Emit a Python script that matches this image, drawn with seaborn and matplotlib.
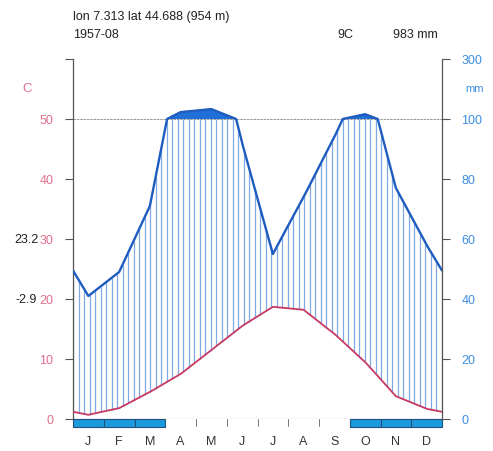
import numpy as np
import seaborn as sns
import matplotlib.pyplot as plt
from matplotlib.patches import Rectangle

# Datos del diagrama (Walter-Lieth)
meses = ["J", "F", "M", "A", "M", "J", "J", "A", "S", "O", "N", "D"]
precip_mm = [41, 49, 71, 123, 133, 92, 55, 74, 94, 116, 77, 58]
temp_c = [0.7, 1.8, 4.5, 7.5, 11.5, 15.5, 18.7, 18.2, 14.2, 9.5, 3.8, 1.7]
helada = [1, 1, 1, 0, 0, 0, 0, 0, 0, 1, 1, 1]
etiquetas_c = ["0", "10", "20", "30", "40", "50", ""]
etiquetas_mm = ["0", "20", "40", "60", "80", "100", "300"]

cabecera = "lon 7.313 lat 44.688 (954 m)"
periodo = "1957-08"
t_media = "9C"
p_total = "983 mm"
t_max = "23.2"
t_min = "-2.9"

ROJO = "#c83a62"
ROSA = "#e0708e"
AZUL_L = "#1f5cbf"
AZUL_T = "#3d8fe0"
AZUL_F = "#2070d8"
RAYA = "#80aae6"
HELADA = "#1c9bdc"
GRIS = "#555555"


def escala_p(mm):
    mm = np.asarray(mm, dtype=float)
    return np.where(mm <= 100, mm / 2, 50 + (mm - 100) / 20)


sns.set_theme(style="white")
plt.rcParams["font.family"] = ["Liberation Sans", "DejaVu Sans"]

W, H = 493, 452
fig = plt.figure(figsize=(W / 100, H / 100), dpi=100)
ax = fig.add_axes([73 / W, 32 / H, 369 / W, 360 / H])

# puntos en el centro de cada mes, extremos = media dic/ene
xp = np.concatenate([[0], np.arange(12) + 0.5, [12]])
pp = np.concatenate([[(precip_mm[0] + precip_mm[-1]) / 2], precip_mm, [(precip_mm[0] + precip_mm[-1]) / 2]])
tt = np.concatenate([[(temp_c[0] + temp_c[-1]) / 2], temp_c, [(temp_c[0] + temp_c[-1]) / 2]])

xs = np.linspace(0, 12, 1201)
p_y = escala_p(np.interp(xs, xp, pp))
t_y = np.interp(xs, xp, tt)

# rayado vertical entre temperatura y precipitacion
hx = np.linspace(0, 12, 68)
ax.vlines(hx, np.interp(hx, xp, tt), np.minimum(escala_p(np.interp(hx, xp, pp)), 50),
          color=RAYA, lw=0.9, zorder=1)

# zona > 100 mm
ax.fill_between(xs, 50, p_y, where=p_y > 50, color=AZUL_F, lw=0, zorder=2)

ax.axhline(50, color="#888888", lw=0.6, ls=(0, (3, 1)), zorder=1)
ax.axhline(0, color="#777777", lw=0.8, zorder=1)

sns.lineplot(x=xs, y=t_y, color=ROJO, lw=1.3, ax=ax, zorder=3)
sns.lineplot(x=xs, y=p_y, color=AZUL_L, lw=1.7, ax=ax, zorder=4)

# meses con helada probable
for i, h in enumerate(helada):
    if h:
        ax.add_patch(Rectangle((i, -1.4), 1, 1.4, fc=HELADA, ec="#1f4f7a", lw=0.8,
                               clip_on=False, zorder=5))
for i in range(1, 12):
    if not helada[i - 1] and not helada[i]:
        ax.plot([i, i], [0, -1.2], color="#777777", lw=0.7, clip_on=False)
for i, m in enumerate(meses):
    ax.text(i + 0.5, -3.6, m, ha="center", va="center", fontsize=9, color="#333333",
            clip_on=False)

ax.set_xlim(0, 12)
ax.set_ylim(0, 60)
ax.set_xticks([])
ax.set_yticks(range(0, 61, 10))
ax.set_yticklabels(etiquetas_c, color=ROSA, fontsize=9)
ax.tick_params(axis="y", left=True, length=6, width=0.8, color=GRIS, pad=8)
for s in ["top", "bottom", "right"]:
    ax.spines[s].set_visible(False)
ax.spines["left"].set_color(GRIS)
ax.spines["left"].set_linewidth(0.9)

ax2 = ax.twinx()
ax2.set_ylim(0, 60)
ax2.set_yticks(range(0, 61, 10))
ax2.set_yticklabels(etiquetas_mm, color=AZUL_T, fontsize=9)
ax2.tick_params(axis="y", right=True, length=6, width=0.8, color=GRIS, pad=8)
for s in ["top", "bottom", "left"]:
    ax2.spines[s].set_visible(False)
ax2.spines["right"].set_color(GRIS)
ax2.spines["right"].set_linewidth(0.9)

fig.text(27 / W, 1 - 89 / H, "C", color=ROSA, fontsize=9.5, ha="center", va="center")
fig.text(475 / W, 1 - 89 / H, "mm", color=AZUL_T, fontsize=8, ha="center", va="center")
fig.text(73 / W, 1 - 17 / H, cabecera, fontsize=9, color="#222222", va="center")
fig.text(73 / W, 1 - 35 / H, periodo, fontsize=9, color="#222222", va="center")
fig.text(345 / W, 1 - 35 / H, t_media, fontsize=9, color="#222222", va="center", ha="center")
fig.text(415 / W, 1 - 35 / H, p_total, fontsize=9, color="#222222", va="center", ha="center")
fig.text(26 / W, 1 - 240 / H, t_max, fontsize=9, color="#222222", va="center", ha="center")
fig.text(26 / W, 1 - 300 / H, t_min, fontsize=9, color="#222222", va="center", ha="center")

fig.savefig("out.png", dpi=100)
